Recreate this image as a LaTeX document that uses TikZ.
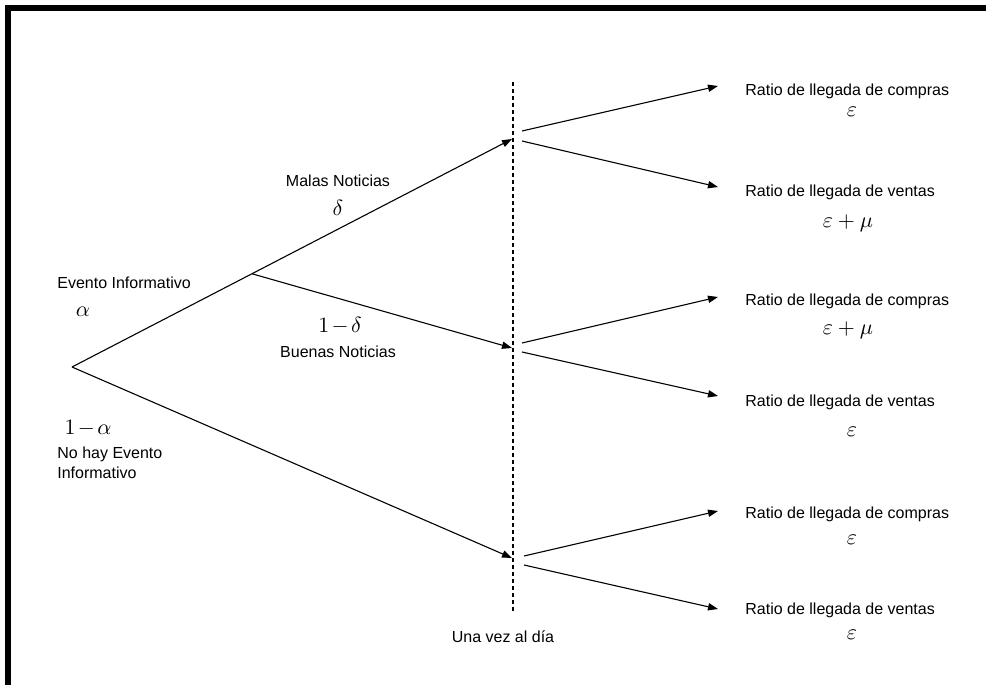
\documentclass[tikz,border=0pt]{standalone}
\usepackage[no-math]{fontspec}
\setmainfont{Liberation Sans}
\usetikzlibrary{arrows.meta,positioning,calc}

\begin{document}
\begin{tikzpicture}[x=0.5pt,y=-0.5pt,
  branch/.style={line width=0.55pt,-{Triangle[length=5pt,width=3.6pt]}},
  plain text/.style={font=\fontsize{8}{10}\selectfont,inner sep=0pt},
  greek text/.style={font=\fontsize{10.5}{12}\selectfont,inner sep=0pt}]
  \useasboundingbox (0,0) rectangle (986,685);
  \draw[line width=3pt] (8,685) -- (8,8) -- (986,8);

  % tree
  \coordinate (root) at (72,367);
  \coordinate (malas) at (512,139);
  \coordinate (buenas) at (512,348);
  \coordinate (nohay) at (512,558);
  \coordinate (split) at ($(root)!0.409!(malas)$);
  \draw[branch] (root) -- (malas);
  \draw[branch] (split) -- (buenas);
  \draw[branch] (root) -- (nohay);

  \coordinate (dtop) at (513,82);
  \coordinate (dbot) at (513,613);
  \draw[line width=0.55pt,dash pattern=on 2pt off 1.5pt] (dtop) -- (dbot);

  % salidas
  \coordinate (m1) at (522,131);  \coordinate (m2) at (522,141);
  \coordinate (b1) at (522,343);  \coordinate (b2) at (522,352);
  \coordinate (n1) at (524,556);  \coordinate (n2) at (524,565);
  \coordinate (mc) at (718,86);   \coordinate (mv) at (718,187);
  \coordinate (bc) at (718,297);  \coordinate (bv) at (718,396);
  \coordinate (nc) at (718,511);  \coordinate (nv) at (718,609);
  \draw[branch] (m1) -- (mc);
  \draw[branch] (m2) -- (mv);
  \draw[branch] (b1) -- (bc);
  \draw[branch] (b2) -- (bv);
  \draw[branch] (n1) -- (nc);
  \draw[branch] (n2) -- (nv);

  % etiquetas
  \node[plain text,anchor=west] (evento) at (57,283) {Evento Informativo};
  \node[greek text] (alpha) at (83,312) {$\alpha$};
  \node[greek text] (unoalpha) at (88,428) {$1\mkern2mu{-}\mkern2mu\alpha$};
  \node[plain text,anchor=west,align=left] (noevento) at (57,463) {No hay Evento\\Informativo};
  \node[plain text] (malasn) at (338,181) {Malas Noticias};
  \node[greek text] (delta) at (338,208) {$\delta$};
  \node[greek text] (unodelta) at (340,326) {$1\mkern2mu{-}\mkern2mu\delta$};
  \node[plain text] (buenasn) at (338,352) {Buenas Noticias};
  \node[plain text] (vez) at (503,637) {Una vez al día};

  \node[plain text,anchor=west] (rc1) at (745,91) {Ratio de llegada de compras};
  \node[greek text] (ec1) at (852,112) {$\varepsilon$};
  \node[plain text,anchor=west] (rv1) at (745,192) {Ratio de llegada de ventas};
  \node[greek text] (ev1) at (848,223) {$\varepsilon+\mu$};
  \node[plain text,anchor=west] (rc2) at (745,301) {Ratio de llegada de compras};
  \node[greek text] (ec2) at (848,330) {$\varepsilon+\mu$};
  \node[plain text,anchor=west] (rv2) at (745,402) {Ratio de llegada de ventas};
  \node[greek text] (ev2) at (852,432) {$\varepsilon$};
  \node[plain text,anchor=west] (rc3) at (745,514) {Ratio de llegada de compras};
  \node[greek text] (ec3) at (852,540) {$\varepsilon$};
  \node[plain text,anchor=west] (rv3) at (745,610) {Ratio de llegada de ventas};
  \node[greek text] (ev3) at (852,635) {$\varepsilon$};
\end{tikzpicture}
\end{document}
